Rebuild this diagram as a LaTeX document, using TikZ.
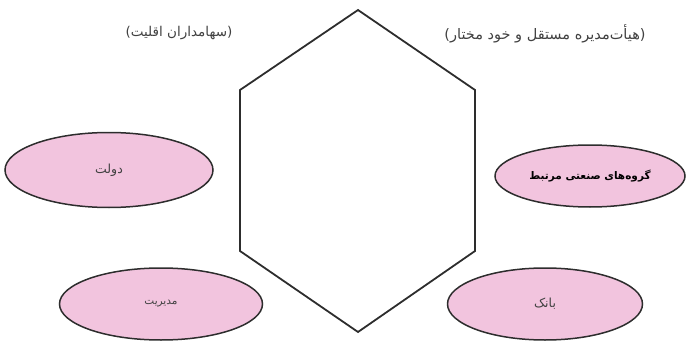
\documentclass[tikz,border=0pt]{standalone}
\usepackage{fontspec}
\newfontfamily\farsifont[Script=Arabic]{DejaVu Sans}
\TeXXeTstate=1
\usetikzlibrary{shapes.geometric,positioning}
\definecolor{ovalpink}{RGB}{242,196,222}
\definecolor{edgegray}{RGB}{45,45,45}
\definecolor{labelgray}{RGB}{65,65,65}

\begin{document}
\begin{tikzpicture}[
  x=1pt, y=-1pt,
  oval/.style={
    ellipse,
    draw=edgegray,
    line width=1.5pt,
    fill=ovalpink,
    inner sep=0pt,
    font=\farsifont\fontsize{12.5}{14}\selectfont,
    text=labelgray
  },
  toplabel/.style={
    inner sep=0pt,
    font=\farsifont\fontsize{13.5}{16}\selectfont,
    text=labelgray
  },
  hexline/.style={draw=edgegray, line width=1.8pt, line join=miter}
]
\useasboundingbox (0,0) rectangle (687,342);

% central hexagon
\coordinate (hexN)  at (358,10);
\coordinate (hexNE) at (475,90);
\coordinate (hexSE) at (475,251);
\coordinate (hexS)  at (358,332);
\coordinate (hexSW) at (240,251);
\coordinate (hexNW) at (240,90);
\draw[hexline] (hexN) -- (hexNE) -- (hexSE) -- (hexS) -- (hexSW) -- (hexNW) -- cycle;

% headings
\node[toplabel] (minority) at (179,33) {)\beginR سهامداران اقلیت\endR(};
\node[toplabel, font=\farsifont\fontsize{14.5}{17}\selectfont] (board) at (545,34)
  {)\beginR هیأت‌مدیره مستقل و خود مختار\endR(};

% actors
\node[oval, minimum width=208pt, minimum height=75pt] (state) at (109,170) {\beginR دولت\endR};
\node[oval, minimum width=190pt, minimum height=62pt,
      font=\farsifont\bfseries\fontsize{10.5}{12}\selectfont, text=black] (industry) at (590,176)
  {\beginR گروه‌های صنعتی مرتبط\endR};
\node[oval, minimum width=203pt, minimum height=72pt,
      font=\farsifont\fontsize{10.5}{12}\selectfont] (management) at (161,304) {\beginR مدیریت\endR};
\node[oval, minimum width=195pt, minimum height=72pt] (bank) at (545,304) {\beginR بانک\endR};

\end{tikzpicture}
\end{document}
